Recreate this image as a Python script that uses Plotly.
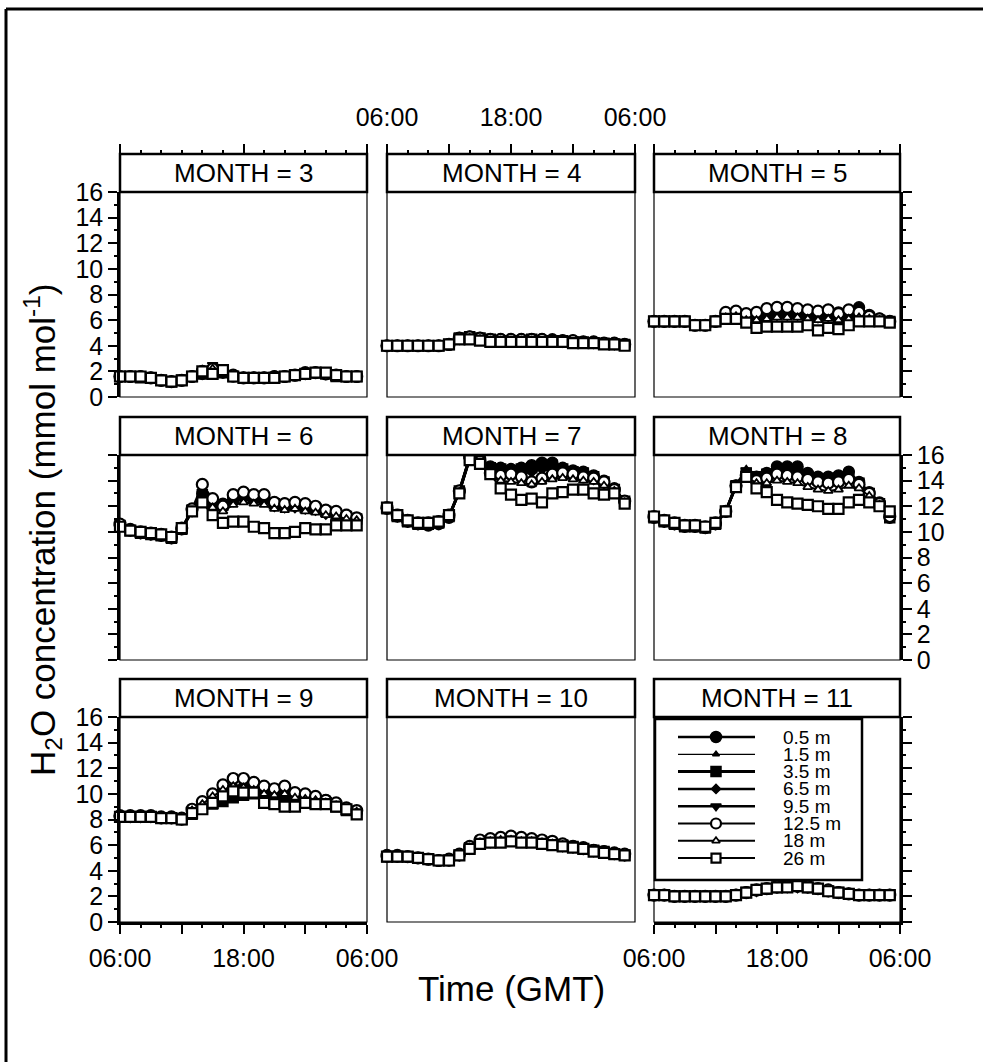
import plotly.graph_objects as go

W, H = 983, 1062
FONT = "Liberation Sans, Arial, sans-serif"

hours = list(range(6, 30))          # 06:00 ... 05:00 next day
months = [3, 4, 5, 6, 7, 8, 9, 10, 11]
heights = ["0.5 m", "1.5 m", "3.5 m", "6.5 m", "9.5 m", "12.5 m", "18 m", "26 m"]
x_tick_vals = [6, 12, 18, 24, 30]
x_tick_text = ["06:00", "", "18:00", "", "06:00"]
y_tick_vals = list(range(0, 17, 2))

# ---- Month 3
m3_h05 = [1.6,1.6,1.6,1.5,1.3,1.2,1.3,1.6,1.8,1.9,1.9,1.6,1.5,1.5,1.5,1.6,1.6,1.7,1.8,1.9,1.8,1.7,1.6,1.6]
m3_h15 = [1.6,1.6,1.6,1.5,1.3,1.2,1.3,1.6,1.9,2.1,2.0,1.6,1.5,1.5,1.5,1.6,1.6,1.7,1.8,1.9,1.8,1.7,1.6,1.6]
m3_h35 = [1.6,1.6,1.5,1.5,1.3,1.2,1.3,1.6,1.8,2.0,1.9,1.6,1.5,1.5,1.5,1.5,1.6,1.7,1.8,1.9,1.8,1.6,1.6,1.6]
m3_h65 = [1.6,1.6,1.6,1.5,1.3,1.2,1.3,1.6,1.9,2.1,2.0,1.7,1.5,1.5,1.5,1.6,1.6,1.7,1.8,1.9,1.8,1.7,1.6,1.6]
m3_h95 = [1.6,1.6,1.6,1.5,1.3,1.2,1.3,1.6,2.0,2.5,2.1,1.7,1.5,1.5,1.5,1.6,1.6,1.7,1.8,1.9,1.8,1.7,1.6,1.6]
m3_h125 = [1.6,1.6,1.6,1.5,1.3,1.2,1.3,1.6,2.0,2.2,2.0,1.7,1.5,1.5,1.5,1.6,1.6,1.7,1.9,1.9,1.8,1.7,1.6,1.6]
m3_h18 = [1.6,1.6,1.6,1.5,1.3,1.2,1.3,1.6,2.1,2.2,2.0,1.7,1.5,1.5,1.5,1.6,1.6,1.7,1.8,1.9,1.8,1.7,1.6,1.6]
m3_h26 = [1.6,1.6,1.6,1.5,1.3,1.2,1.3,1.6,2.0,1.8,2.1,1.6,1.5,1.5,1.5,1.5,1.6,1.7,1.8,1.9,1.9,1.7,1.6,1.6]

# ---- Month 4
m4_h05 = [4.0,4.0,4.0,4.0,4.0,4.0,4.1,4.6,4.7,4.6,4.5,4.5,4.4,4.5,4.5,4.5,4.5,4.4,4.4,4.3,4.3,4.2,4.2,4.1]
m4_h15 = [4.0,4.0,4.0,4.0,4.0,4.0,4.1,4.6,4.6,4.5,4.5,4.4,4.4,4.4,4.4,4.4,4.4,4.4,4.3,4.3,4.2,4.2,4.1,4.1]
m4_h35 = [4.0,4.0,4.0,4.0,4.0,4.0,4.1,4.6,4.7,4.6,4.5,4.4,4.4,4.4,4.5,4.4,4.4,4.4,4.3,4.3,4.2,4.2,4.1,4.1]
m4_h65 = [4.0,4.0,4.0,4.0,4.0,4.0,4.1,4.5,4.6,4.5,4.4,4.4,4.4,4.4,4.4,4.4,4.4,4.3,4.3,4.3,4.2,4.2,4.1,4.1]
m4_h95 = [4.0,4.0,4.0,4.0,4.0,4.0,4.1,4.6,4.7,4.6,4.5,4.4,4.4,4.5,4.5,4.4,4.4,4.4,4.3,4.3,4.2,4.2,4.1,4.1]
m4_h125 = [4.0,4.0,4.0,4.0,4.0,4.0,4.1,4.6,4.7,4.6,4.5,4.5,4.5,4.5,4.5,4.5,4.4,4.4,4.4,4.3,4.3,4.2,4.2,4.1]
m4_h18 = [4.0,4.0,4.0,4.0,4.0,4.0,4.1,4.5,4.6,4.5,4.4,4.4,4.4,4.4,4.4,4.3,4.3,4.3,4.3,4.2,4.2,4.1,4.1,4.1]
m4_h26 = [4.0,4.0,4.0,4.0,4.0,4.0,4.1,4.5,4.5,4.4,4.3,4.3,4.3,4.3,4.3,4.3,4.3,4.3,4.2,4.2,4.2,4.1,4.1,4.0]

# ---- Month 5
m5_h05 = [5.9,5.9,5.9,5.9,5.6,5.6,5.9,6.4,6.5,6.4,6.5,6.7,6.9,6.9,6.8,6.7,6.6,6.8,6.6,6.7,7.0,6.4,6.1,5.9]
m5_h15 = [5.9,5.9,5.9,5.9,5.6,5.6,5.9,6.3,6.4,6.2,6.3,6.5,6.6,6.6,6.6,6.5,6.4,6.5,6.4,6.5,6.6,6.3,6.1,5.9]
m5_h35 = [5.9,5.9,5.9,5.9,5.6,5.6,5.9,6.3,6.4,6.2,6.3,6.4,6.5,6.6,6.5,6.4,6.3,6.4,6.3,6.4,6.5,6.2,6.0,5.9]
m5_h65 = [5.9,5.9,5.9,5.9,5.6,5.6,5.9,6.3,6.3,6.1,6.2,6.3,6.4,6.4,6.4,6.3,6.2,6.3,6.2,6.3,6.4,6.2,6.0,5.9]
m5_h95 = [5.9,5.9,5.9,5.9,5.6,5.6,5.9,6.3,6.4,6.2,6.3,6.4,6.5,6.5,6.5,6.4,6.3,6.4,6.3,6.4,6.5,6.2,6.0,5.9]
m5_h125 = [5.9,5.9,5.9,5.9,5.6,5.6,5.9,6.6,6.7,6.5,6.6,6.9,7.0,7.0,6.9,6.8,6.7,6.8,6.5,6.8,6.6,6.3,6.1,5.9]
m5_h18 = [5.9,5.9,5.9,5.9,5.6,5.6,5.9,6.2,6.3,6.0,6.0,6.1,6.2,6.2,6.2,6.1,6.0,6.1,6.0,6.1,6.2,6.1,6.0,5.9]
m5_h26 = [5.9,5.9,5.9,5.9,5.6,5.6,5.9,6.1,6.1,5.8,5.4,5.5,5.5,5.5,5.5,5.6,5.2,5.4,5.3,5.6,5.9,5.9,5.9,5.8]

# ---- Month 6
m6_h05 = [10.5,10.1,9.9,9.8,9.7,9.5,10.2,11.7,13.0,12.5,12.2,12.7,12.9,12.8,12.7,12.3,12.2,12.2,12.0,11.9,11.6,11.5,11.2,11.0]
m6_h15 = [10.5,10.1,9.9,9.8,9.7,9.5,10.2,11.6,12.8,12.2,12.0,12.4,12.6,12.5,12.4,12.1,12.0,12.0,11.8,11.7,11.5,11.3,11.1,10.9]
m6_h35 = [10.5,10.1,9.9,9.8,9.7,9.5,10.2,11.7,12.9,12.3,12.1,12.6,12.8,12.7,12.6,12.2,12.1,12.1,11.9,11.8,11.6,11.4,11.2,11.0]
m6_h65 = [10.5,10.1,9.9,9.8,9.7,9.5,10.2,11.6,12.7,12.1,11.9,12.4,12.6,12.5,12.4,12.0,11.9,11.9,11.8,11.7,11.4,11.3,11.1,10.9]
m6_h95 = [10.5,10.1,9.9,9.8,9.7,9.5,10.2,11.7,12.8,12.2,12.0,12.5,12.7,12.6,12.5,12.1,12.0,12.0,11.9,11.8,11.5,11.4,11.2,11.0]
m6_h125 = [10.6,10.2,10.0,9.9,9.8,9.6,10.3,11.8,13.7,12.6,12.0,12.9,13.1,12.9,12.9,12.3,12.2,12.3,12.2,12.0,11.7,11.6,11.3,11.1]
m6_h18 = [10.5,10.1,9.9,9.8,9.7,9.5,10.2,11.6,12.5,11.9,11.6,12.1,12.3,12.2,12.1,11.8,11.7,11.8,11.6,11.5,11.3,11.2,11.0,10.9]
m6_h26 = [10.4,10.1,10.0,9.9,9.8,9.6,10.3,11.6,12.3,11.3,10.7,10.8,10.8,10.4,10.3,9.9,9.9,10.0,10.3,10.2,10.2,10.5,10.5,10.5]

# ---- Month 7
m7_h05 = [11.8,11.2,10.8,10.6,10.5,10.6,11.1,13.2,15.8,15.7,15.1,15.0,14.9,15.0,15.2,15.4,15.4,15.0,14.8,14.7,14.4,14.0,13.4,12.4]
m7_h15 = [11.8,11.2,10.8,10.6,10.6,10.7,11.2,13.1,15.7,15.5,14.9,14.8,14.7,14.8,14.9,15.1,15.1,14.8,14.6,14.5,14.2,13.8,13.3,12.3]
m7_h35 = [11.8,11.2,10.8,10.6,10.6,10.7,11.2,13.2,15.8,15.6,15.0,14.9,14.8,14.9,15.0,15.2,15.2,14.9,14.7,14.6,14.3,13.9,13.3,12.4]
m7_h65 = [11.8,11.2,10.8,10.6,10.6,10.7,11.2,13.1,15.7,15.5,14.8,14.7,14.6,14.6,14.7,14.9,14.9,14.7,14.5,14.4,14.1,13.8,13.2,12.3]
m7_h95 = [11.8,11.2,10.8,10.6,10.6,10.7,11.2,13.2,15.8,15.6,15.0,14.8,14.8,14.9,15.0,15.2,15.2,14.9,14.7,14.5,14.3,13.9,13.3,12.4]
m7_h125 = [11.9,11.3,10.9,10.7,10.7,10.8,11.3,13.2,15.9,15.5,14.6,14.4,14.5,14.3,13.9,14.2,14.5,14.6,14.5,14.3,14.2,13.9,13.3,12.4]
m7_h18 = [11.9,11.3,10.9,10.7,10.7,10.8,11.3,13.1,15.7,15.4,14.5,14.0,13.9,13.8,13.7,13.9,14.1,14.2,14.1,14.0,13.9,13.6,13.2,12.3]
m7_h26 = [11.9,11.3,10.9,10.7,10.7,10.8,11.3,13.0,15.6,15.3,14.5,13.4,12.9,12.5,12.6,12.3,13.0,13.1,13.3,13.3,13.0,12.9,13.0,12.2]

# ---- Month 8
m8_h05 = [11.1,10.8,10.6,10.4,10.4,10.3,10.6,11.6,13.6,14.5,14.3,14.6,15.1,15.1,15.1,14.6,14.3,14.3,14.4,14.7,13.9,13.1,12.3,11.1]
m8_h15 = [11.1,10.8,10.6,10.4,10.4,10.3,10.6,11.6,13.7,14.9,14.4,14.6,14.9,14.8,14.7,14.3,14.1,14.1,14.2,14.4,13.8,13.0,12.2,11.1]
m8_h35 = [11.1,10.8,10.6,10.4,10.4,10.3,10.6,11.6,13.6,14.6,14.3,14.5,14.8,14.8,14.7,14.3,14.1,14.1,14.2,14.4,13.8,13.0,12.2,11.1]
m8_h65 = [11.1,10.8,10.6,10.4,10.4,10.3,10.6,11.6,13.6,14.5,14.1,14.3,14.6,14.5,14.4,14.1,13.9,13.9,14.0,14.2,13.7,12.9,12.2,11.1]
m8_h95 = [11.1,10.8,10.6,10.4,10.4,10.3,10.6,11.6,13.7,14.8,14.2,14.4,14.7,14.6,14.5,14.2,14.0,14.0,14.1,14.3,13.7,13.0,12.2,11.2]
m8_h125 = [11.2,10.9,10.7,10.5,10.5,10.4,10.7,11.6,13.6,14.4,14.0,14.2,14.5,14.4,14.3,14.1,13.9,13.8,13.9,14.1,13.7,13.0,12.2,11.2]
m8_h18 = [11.2,10.9,10.7,10.5,10.5,10.4,10.7,11.6,13.5,14.3,13.8,13.8,14.0,13.9,13.8,13.5,13.3,13.2,13.3,13.6,13.4,12.8,12.1,11.3]
m8_h26 = [11.2,10.9,10.7,10.5,10.5,10.4,10.7,11.6,13.5,14.3,13.4,13.1,12.5,12.3,12.2,12.1,12.0,11.8,11.8,12.3,12.5,12.3,12.0,11.6]

# ---- Month 9
m9_h05 = [8.2,8.2,8.2,8.2,8.1,8.1,8.0,8.6,9.1,9.6,10.1,10.4,10.5,10.5,10.4,10.3,10.3,10.0,9.9,9.7,9.5,9.2,8.8,8.5]
m9_h15 = [8.2,8.2,8.2,8.2,8.1,8.1,8.0,8.5,9.0,9.5,10.0,10.3,10.4,10.4,10.3,10.2,10.2,9.9,9.8,9.6,9.4,9.1,8.8,8.5]
m9_h35 = [8.2,8.2,8.2,8.2,8.1,8.1,8.0,8.4,8.9,9.2,9.4,9.7,9.9,10.0,10.0,9.9,9.9,9.7,9.6,9.5,9.3,9.0,8.7,8.4]
m9_h65 = [8.2,8.2,8.2,8.2,8.1,8.1,8.0,8.5,9.0,9.4,9.8,10.1,10.2,10.2,10.1,10.0,10.0,9.8,9.7,9.5,9.3,9.1,8.8,8.5]
m9_h95 = [8.2,8.2,8.2,8.2,8.1,8.1,8.0,8.5,9.0,9.5,9.9,10.2,10.3,10.3,10.2,10.1,10.1,9.9,9.8,9.6,9.4,9.1,8.8,8.5]
m9_h125 = [8.3,8.3,8.3,8.3,8.2,8.2,8.1,8.8,9.4,10.0,10.7,11.2,11.2,10.9,10.6,10.4,10.6,10.1,10.0,9.8,9.5,9.3,8.9,8.7]
m9_h18 = [8.3,8.3,8.3,8.3,8.2,8.2,8.1,8.7,9.2,9.8,10.3,10.6,10.5,10.3,10.0,9.9,10.0,9.7,9.6,9.5,9.3,9.1,8.8,8.6]
m9_h26 = [8.2,8.2,8.2,8.2,8.1,8.1,8.0,8.5,8.8,9.3,9.8,10.2,10.1,10.1,9.3,9.2,9.0,9.0,9.3,9.2,9.2,9.0,8.8,8.4]

# ---- Month 10
m10_h05 = [5.1,5.1,5.1,5.0,4.9,4.8,4.8,5.2,5.8,6.2,6.3,6.4,6.5,6.4,6.4,6.3,6.2,6.0,5.9,5.7,5.6,5.5,5.3,5.2]
m10_h15 = [5.1,5.1,5.1,5.0,4.9,4.8,4.8,5.2,5.8,6.2,6.3,6.3,6.4,6.4,6.3,6.2,6.1,6.0,5.8,5.7,5.6,5.4,5.3,5.2]
m10_h35 = [5.1,5.1,5.1,5.0,4.9,4.8,4.8,5.2,5.8,6.1,6.3,6.4,6.4,6.4,6.3,6.2,6.1,6.0,5.9,5.7,5.6,5.5,5.3,5.2]
m10_h65 = [5.1,5.1,5.1,5.0,4.9,4.8,4.8,5.2,5.7,6.1,6.2,6.3,6.4,6.3,6.3,6.2,6.1,5.9,5.8,5.7,5.5,5.4,5.3,5.2]
m10_h95 = [5.1,5.1,5.1,5.0,4.9,4.8,4.8,5.2,5.8,6.2,6.3,6.4,6.5,6.4,6.3,6.3,6.2,6.0,5.9,5.7,5.6,5.5,5.3,5.2]
m10_h125 = [5.2,5.2,5.1,5.0,4.9,4.8,4.9,5.3,5.9,6.4,6.5,6.6,6.7,6.6,6.5,6.4,6.3,6.1,5.9,5.8,5.6,5.5,5.4,5.3]
m10_h18 = [5.1,5.1,5.1,5.0,4.9,4.8,4.8,5.2,5.8,6.2,6.3,6.4,6.4,6.3,6.3,6.2,6.1,6.0,5.8,5.7,5.6,5.4,5.3,5.2]
m10_h26 = [5.1,5.1,5.1,5.0,4.9,4.8,4.8,5.2,5.7,6.1,6.2,6.2,6.3,6.2,6.2,6.1,6.0,5.9,5.8,5.7,5.5,5.4,5.3,5.2]

# ---- Month 11
m11_h05 = [2.1,2.1,2.0,2.0,2.0,2.0,2.0,2.0,2.1,2.3,2.5,2.6,2.7,2.8,2.8,2.7,2.6,2.4,2.3,2.2,2.1,2.1,2.1,2.1]
m11_h15 = [2.1,2.1,2.0,2.0,2.0,2.0,2.0,2.0,2.1,2.3,2.5,2.6,2.7,2.7,2.7,2.7,2.6,2.4,2.3,2.2,2.1,2.1,2.1,2.1]
m11_h35 = [2.1,2.1,2.0,2.0,2.0,2.0,2.0,2.0,2.1,2.3,2.5,2.6,2.7,2.8,2.8,2.7,2.6,2.4,2.3,2.2,2.1,2.1,2.1,2.1]
m11_h65 = [2.1,2.1,2.0,2.0,2.0,2.0,2.0,2.0,2.1,2.3,2.4,2.6,2.7,2.7,2.7,2.7,2.6,2.4,2.3,2.2,2.1,2.1,2.1,2.1]
m11_h95 = [2.1,2.1,2.0,2.0,2.0,2.0,2.0,2.0,2.1,2.3,2.5,2.6,2.7,2.8,2.8,2.7,2.6,2.4,2.3,2.2,2.1,2.1,2.1,2.1]
m11_h125 = [2.1,2.1,2.0,2.0,2.0,2.0,2.0,2.0,2.1,2.3,2.5,2.6,2.8,2.8,2.8,2.8,2.6,2.5,2.3,2.2,2.1,2.1,2.1,2.1]
m11_h18 = [2.1,2.1,2.0,2.0,2.0,2.0,2.0,2.0,2.1,2.3,2.5,2.6,2.7,2.8,2.8,2.7,2.6,2.4,2.3,2.2,2.1,2.1,2.1,2.1]
m11_h26 = [2.1,2.1,2.0,2.0,2.0,2.0,2.0,2.0,2.1,2.3,2.5,2.6,2.7,2.7,2.8,2.7,2.6,2.4,2.3,2.2,2.1,2.1,2.1,2.1]

series_by_month = {
    3: [m3_h05, m3_h15, m3_h35, m3_h65, m3_h95, m3_h125, m3_h18, m3_h26],
    4: [m4_h05, m4_h15, m4_h35, m4_h65, m4_h95, m4_h125, m4_h18, m4_h26],
    5: [m5_h05, m5_h15, m5_h35, m5_h65, m5_h95, m5_h125, m5_h18, m5_h26],
    6: [m6_h05, m6_h15, m6_h35, m6_h65, m6_h95, m6_h125, m6_h18, m6_h26],
    7: [m7_h05, m7_h15, m7_h35, m7_h65, m7_h95, m7_h125, m7_h18, m7_h26],
    8: [m8_h05, m8_h15, m8_h35, m8_h65, m8_h95, m8_h125, m8_h18, m8_h26],
    9: [m9_h05, m9_h15, m9_h35, m9_h65, m9_h95, m9_h125, m9_h18, m9_h26],
    10: [m10_h05, m10_h15, m10_h35, m10_h65, m10_h95, m10_h125, m10_h18, m10_h26],
    11: [m11_h05, m11_h15, m11_h35, m11_h65, m11_h95, m11_h125, m11_h18, m11_h26],
}

styles = [
    dict(symbol="circle", size=11, fill="black", lw=2.5, lsize=11, mlw=1.5),
    dict(symbol="triangle-up", size=7, fill="black", lw=1.2, lsize=6, mlw=1.5),
    dict(symbol="square", size=10, fill="black", lw=3.0, lsize=10, mlw=1.5),
    dict(symbol="diamond", size=8, fill="black", lw=2.5, lsize=7, mlw=1.5),
    dict(symbol="triangle-down", size=9, fill="black", lw=2.5, lsize=9, mlw=1.5),
    dict(symbol="circle", size=11, fill="white", lw=2.0, lsize=10, mlw=2.2),
    dict(symbol="triangle-up", size=8, fill="white", lw=2.0, lsize=7, mlw=1.8),
    dict(symbol="square", size=10, fill="white", lw=2.0, lsize=9, mlw=2.2),
]

cols = [(120, 367), (387, 635), (654, 900)]
rows = [(192, 397), (455, 660), (717, 922)]
STRIP = 38
TICKFONT = dict(family=FONT, size=25, color="black")


def fx(px):
    return px / W


def fy(py):
    return 1 - py / H


fig = go.Figure()
shapes = []
annotations = []
layout = {}

for p, month in enumerate(months):
    r, c = divmod(p, 3)
    xl, xr = cols[c]
    yt, yb = rows[r]
    sfx = "" if p == 0 else str(p + 1)
    xa, ya = "x" + sfx, "y" + sfx

    for k, vals in enumerate(series_by_month[month]):
        st = styles[k]
        fig.add_trace(go.Scatter(
            x=hours, y=vals, xaxis=xa, yaxis=ya, mode="lines+markers",
            line=dict(color="black", width=st["lw"]),
            marker=dict(symbol=st["symbol"], size=st["size"], color=st["fill"],
                        line=dict(color="black", width=st["mlw"])),
            cliponaxis=False, showlegend=False, hoverinfo="skip"))

    xdict = dict(domain=[fx(xl), fx(xr)], range=[6, 30], anchor=ya,
                 showgrid=False, zeroline=False, fixedrange=True, automargin=False,
                 tickfont=TICKFONT)
    ticked_x = (r == 2 and c != 1) or r == 0
    if ticked_x:
        xdict.update(tickmode="array", tickvals=x_tick_vals, ticktext=x_tick_text,
                     ticks="outside", ticklen=9, tickwidth=2, tickcolor="black",
                     showline=True, linewidth=2.5, linecolor="black",
                     minor=dict(tickmode="linear", tick0=0, dtick=2, ticks="outside",
                                ticklen=3, tickwidth=1.5, tickcolor="black"))
        if r == 0:
            xdict.update(side="top", anchor="free", position=fy(yt - STRIP),
                         showticklabels=(c == 1), ticklabelstandoff=8)
        else:
            xdict.update(side="bottom", showticklabels=True, ticklabelstandoff=3)
    else:
        xdict.update(showticklabels=False, ticks="", showline=False)
    layout["xaxis" + sfx] = xdict

    ydict = dict(domain=[fy(yb), fy(yt)], range=[0, 16], anchor=xa,
                 showgrid=False, zeroline=False, fixedrange=True, automargin=False,
                 tickfont=TICKFONT)
    if c in (0, 2):
        ydict.update(tickmode="array", tickvals=y_tick_vals,
                     ticks="outside", ticklen=9, tickwidth=2, tickcolor="black",
                     showline=True, linewidth=2.5, linecolor="black",
                     side="left" if c == 0 else "right",
                     showticklabels=(c == 0 and r != 1) or (c == 2 and r == 1),
                     minor=dict(tickmode="linear", tick0=0, dtick=1, ticks="outside",
                                ticklen=3, tickwidth=1.5, tickcolor="black"))
    else:
        ydict.update(showticklabels=False, ticks="", showline=False)
    layout["yaxis" + sfx] = ydict

    shapes.append(dict(type="rect", xref="paper", yref="paper",
                       x0=fx(xl), x1=fx(xr), y0=fy(yb), y1=fy(yt),
                       line=dict(color="black", width=1.2), layer="below"))
    shapes.append(dict(type="rect", xref="paper", yref="paper",
                       x0=fx(xl), x1=fx(xr), y0=fy(yt), y1=fy(yt - STRIP),
                       line=dict(color="black", width=2.5), fillcolor="white"))
    annotations.append(dict(xref="paper", yref="paper", x=fx((xl + xr) / 2),
                            y=fy(yt - STRIP / 2), text=f"MONTH = {month}",
                            showarrow=False, xanchor="center", yanchor="middle",
                            font=dict(family=FONT, size=26, color="black")))

# ---- legend (drawn inside MONTH = 11 panel)
LX0, LX1, LY0, LY1 = 655, 862, 719, 880
shapes.append(dict(type="rect", xref="paper", yref="paper",
                   x0=fx(LX0), x1=fx(LX1), y0=fy(LY1), y1=fy(LY0),
                   line=dict(color="black", width=2.5), fillcolor="white",
                   layer="below"))
layout["xaxis10"] = dict(domain=[0, 1], range=[0, W], visible=False,
                         fixedrange=True, anchor="y10", automargin=False)
layout["yaxis10"] = dict(domain=[0, 1], range=[H, 0], visible=False,
                         fixedrange=True, anchor="x10", automargin=False)
for k, name in enumerate(heights):
    st = styles[k]
    yy = 737 + 17.3 * k
    fig.add_trace(go.Scatter(x=[678, 755], y=[yy, yy], xaxis="x10", yaxis="y10",
                             mode="lines", line=dict(color="black", width=st["lw"]),
                             showlegend=False, hoverinfo="skip", cliponaxis=False))
    fig.add_trace(go.Scatter(x=[716], y=[yy], xaxis="x10", yaxis="y10",
                             mode="markers",
                             marker=dict(symbol=st["symbol"], size=st["lsize"],
                                         color=st["fill"],
                                         line=dict(color="black", width=st["mlw"])),
                             showlegend=False, hoverinfo="skip", cliponaxis=False))
    annotations.append(dict(xref="paper", yref="paper", x=fx(781), y=fy(yy),
                            text=name, showarrow=False, xanchor="left",
                            yanchor="middle",
                            font=dict(family=FONT, size=19, color="black")))

annotations.append(dict(xref="paper", yref="paper", x=fx(42), y=fy(530),
                        text="H<sub>2</sub>O concentration (mmol mol<sup>-1</sup>)",
                        textangle=-90, showarrow=False, xanchor="center",
                        yanchor="middle",
                        font=dict(family=FONT, size=35, color="black")))
annotations.append(dict(xref="paper", yref="paper", x=fx(511), y=fy(988),
                        text="Time (GMT)", showarrow=False, xanchor="center",
                        yanchor="middle",
                        font=dict(family=FONT, size=35, color="black")))

shapes.append(dict(type="line", xref="paper", yref="paper",
                   x0=fx(6), x1=fx(6), y0=fy(9), y1=0,
                   line=dict(color="black", width=3)))
shapes.append(dict(type="line", xref="paper", yref="paper",
                   x0=fx(6), x1=1, y0=fy(9), y1=fy(9),
                   line=dict(color="black", width=3)))

fig.update_layout(
    width=W, height=H, margin=dict(l=0, r=0, t=0, b=0, autoexpand=False),
    paper_bgcolor="white", plot_bgcolor="rgba(0,0,0,0)",
    showlegend=False, shapes=shapes, annotations=annotations,
    font=dict(family=FONT, color="black"),
    **layout)

fig.write_html("out.html")
